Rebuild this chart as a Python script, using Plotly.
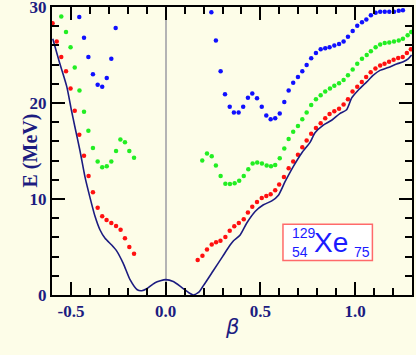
import plotly.graph_objects as go

# level curve and excited bands
curve_beta = [-0.596, -0.560, -0.522, -0.498, -0.479, -0.452, -0.426, -0.400, -0.373, -0.347,
              -0.320, -0.285, -0.259, -0.224, -0.188, -0.150, -0.126, -0.100, -0.056, 0.000,
              0.040, 0.084, 0.128, 0.146, 0.175, 0.200, 0.250, 0.300, 0.340, 0.358,
              0.393, 0.428, 0.472, 0.516, 0.560, 0.595, 0.630, 0.674, 0.718, 0.762,
              0.788, 0.832, 0.876, 0.919, 0.955, 0.981, 1.017, 1.061, 1.096, 1.131,
              1.175, 1.219, 1.254, 1.280, 1.298]
curve_e = [26.7, 24.2, 21.7, 19.3, 17.5, 15.0, 12.3, 10.2, 8.2, 6.8,
           5.9, 5.2, 4.6, 3.3, 1.6, 0.55, 0.45, 0.65, 1.28, 1.6,
           1.4, 0.8, 0.17, 0.0, 0.3, 1.0, 2.5, 4.0, 5.2, 5.65,
           6.25, 7.5, 8.7, 9.4, 9.8, 10.4, 11.8, 13.4, 14.8, 15.9,
           16.9, 17.7, 18.2, 18.9, 19.3, 20.5, 21.35, 22.2, 22.9, 23.4,
           23.7, 24.06, 24.3, 24.6, 25.0]

red_left_beta = [-0.597, -0.575, -0.551, -0.526, -0.502, -0.480, -0.456, -0.431, -0.407, -0.384,
                 -0.359, -0.335, -0.312, -0.287, -0.262, -0.238, -0.215, -0.192, -0.167]
red_left_e = [28.3, 26.4, 24.8, 23.3, 21.5, 19.2, 16.7, 14.5, 12.4, 10.7,
              9.1, 8.2, 7.8, 7.5, 7.2, 6.8, 5.9, 5.0, 4.3]

red_right_beta = [0.169, 0.194, 0.218, 0.243, 0.266, 0.289, 0.315, 0.338, 0.362, 0.386,
                  0.412, 0.434, 0.457, 0.482, 0.507, 0.531, 0.554, 0.578, 0.599, 0.624,
                  0.649, 0.673, 0.698, 0.721, 0.744, 0.768, 0.793, 0.818, 0.842, 0.865,
                  0.890, 0.915, 0.939, 0.962, 0.986, 1.011, 1.035, 1.058, 1.082, 1.107,
                  1.132, 1.155, 1.179, 1.203, 1.227, 1.251, 1.273, 1.294]
red_right_e = [3.65, 4.1, 4.75, 5.25, 5.5, 5.65, 6.05, 6.7, 7.15, 7.5,
               7.9, 8.6, 9.2, 9.7, 10.1, 10.3, 10.5, 10.9, 11.5, 12.3,
               13.2, 13.9, 14.6, 15.4, 16.1, 16.8, 17.4, 17.9, 18.4, 18.85,
               19.15, 19.4, 19.85, 20.4, 21.2, 21.7, 22.2, 22.7, 23.2, 23.6,
               23.9, 24.1, 24.3, 24.5, 24.7, 24.8, 25.2, 25.6]

green_left_beta = [-0.551, -0.526, -0.502, -0.480, -0.455, -0.431, -0.408, -0.384, -0.359, -0.335,
                   -0.311, -0.287, -0.262, -0.239, -0.215, -0.192, -0.167]
green_left_e = [29.0, 27.4, 25.8, 23.7, 21.3, 19.1, 17.1, 15.3, 13.9, 13.3,
                13.4, 13.9, 15.0, 16.2, 15.9, 15.0, 14.3]

green_right_beta = [0.193, 0.218, 0.243, 0.265, 0.290, 0.315, 0.339, 0.364, 0.388, 0.412,
                    0.436, 0.459, 0.483, 0.508, 0.533, 0.556, 0.578, 0.602, 0.626, 0.649,
                    0.673, 0.698, 0.721, 0.744, 0.768, 0.793, 0.818, 0.842, 0.867, 0.890,
                    0.915, 0.939, 0.962, 0.987, 1.011, 1.036, 1.061, 1.083, 1.108, 1.132,
                    1.156, 1.180, 1.205, 1.230, 1.252, 1.277, 1.296]
green_right_e = [14.0, 14.75, 14.45, 13.5, 12.4, 11.6, 11.55, 11.65, 11.9, 12.4,
                 13.1, 13.7, 13.8, 13.7, 13.5, 13.4, 13.55, 14.25, 15.25, 16.25,
                 17.0, 17.6, 18.3, 19.0, 19.8, 20.4, 20.8, 21.2, 21.5, 21.8,
                 22.05, 22.4, 22.9, 23.5, 24.1, 24.6, 25.0, 25.4, 25.8, 26.1,
                 26.25, 26.3, 26.4, 26.5, 26.7, 27.05, 27.4]

blue_left_beta = [-0.456, -0.431, -0.408, -0.384, -0.359, -0.335, -0.311, -0.287, -0.264]
blue_left_e = [28.96, 26.8, 24.8, 23.0, 21.9, 21.7, 22.6, 24.6, 27.8]

blue_right_beta = [0.241, 0.265, 0.290, 0.313, 0.338, 0.360, 0.385, 0.409, 0.434, 0.457,
                   0.482, 0.507, 0.531, 0.554, 0.578, 0.602, 0.626, 0.649, 0.673, 0.698,
                   0.721, 0.744, 0.768, 0.793, 0.818, 0.842, 0.865, 0.890, 0.915, 0.939,
                   0.962, 0.987, 1.011, 1.036, 1.059, 1.083, 1.108, 1.132, 1.156, 1.180,
                   1.205, 1.230, 1.252]
blue_right_e = [29.45, 26.5, 23.3, 20.9, 19.6, 19.0, 19.0, 19.6, 20.55, 21.0,
                20.5, 19.6, 18.7, 18.3, 18.4, 18.9, 20.1, 21.3, 22.1, 22.7,
                23.3, 23.95, 24.65, 25.2, 25.6, 25.7, 25.8, 26.0, 26.15, 26.4,
                26.9, 27.5, 28.05, 28.4, 28.7, 29.15, 29.4, 29.5, 29.5, 29.5,
                29.5, 29.6, 29.65]

x_tickvals = [-0.5, 0.0, 0.5, 1.0]
x_ticktext = ["<b>-0.5</b>", "<b>0.0</b>", "<b>0.5</b>", "<b>1.0</b>"]
y_tickvals = [0, 10, 20, 30]
y_ticktext = ["<b>0</b>", "<b>10</b>", "<b>20</b>", "<b>30</b>"]

BG = '#fdfde8'
NAVY = '#1c1c80'
TXT_BLUE = '#1a1aff'

fig = go.Figure()

dot_sets = [
    (red_left_beta, red_left_e, '#ff1010'),
    (red_right_beta, red_right_e, '#ff1010'),
    (green_left_beta, green_left_e, '#22ee22'),
    (green_right_beta, green_right_e, '#22ee22'),
    (blue_left_beta, blue_left_e, '#1010ff'),
    (blue_right_beta, blue_right_e, '#1010ff'),
]
for xs, ys, col in dot_sets:
    fig.add_trace(go.Scatter(x=xs, y=ys, mode='markers',
                             marker=dict(color=col, size=4.5, line=dict(width=0)),
                             showlegend=False))

fig.add_trace(go.Scatter(x=curve_beta, y=curve_e, mode='lines',
                         line=dict(color=NAVY, width=1.6, shape='spline', smoothing=0.6),
                         showlegend=False))

# nucleus label
fig.add_shape(type='rect', x0=0.619, x1=1.091, y0=3.6, y1=7.36, xref='x', yref='y',
              line=dict(color='#ff6a6a', width=1.5), fillcolor='white')
lab_font = dict(family='Liberation Sans', color=TXT_BLUE)
fig.add_annotation(x=0.656, y=6.46, text='129', showarrow=False, xanchor='left',
                   font=dict(size=14, **lab_font))
fig.add_annotation(x=0.656, y=4.43, text='54', showarrow=False, xanchor='left',
                   font=dict(size=14, **lab_font))
fig.add_annotation(x=0.872, y=5.42, text='Xe', showarrow=False,
                   font=dict(size=28, **lab_font))
fig.add_annotation(x=0.983, y=4.43, text='75', showarrow=False, xanchor='left',
                   font=dict(size=14, **lab_font))

# axis titles as paper annotations
fig.add_annotation(x=-0.1, y=0.5, xref='paper', yref='paper', text='<b>E (MeV)</b>',
                   textangle=-90, showarrow=False,
                   font=dict(family='Liberation Serif', size=20, color=NAVY))
fig.add_annotation(x=0.5, y=-0.16, xref='paper', yref='paper', text='<i>β</i>',
                   showarrow=False,
                   font=dict(family='DejaVu Sans', size=21, color=NAVY))

tick_font = dict(family='Liberation Serif', size=17, color=NAVY)

fig.update_xaxes(range=[-0.6, 1.3], tickmode='array', tickvals=x_tickvals, ticktext=x_ticktext,
                 ticks='inside', ticklen=13, tickwidth=2, tickcolor='black',
                 minor=dict(ticks='inside', ticklen=7, tickwidth=1.5, tickcolor='black',
                            tick0=0, dtick=0.1),
                 showline=True, linecolor='black', linewidth=2, mirror='allticks',
                 showgrid=False, zeroline=True, zerolinecolor='#b4b4b4', zerolinewidth=2,
                 tickfont=tick_font, automargin=False)
fig.update_yaxes(range=[0, 30], tickmode='array', tickvals=y_tickvals, ticktext=y_ticktext,
                 ticks='inside', ticklen=13, tickwidth=2, tickcolor='black',
                 minor=dict(ticks='inside', ticklen=7, tickwidth=1.5, tickcolor='black',
                            tick0=0, dtick=2),
                 showline=True, linecolor='black', linewidth=2, mirror='allticks',
                 showgrid=False, zeroline=False, tickfont=tick_font,
                 ticklabeloverflow='allow', automargin=False)

fig.update_layout(width=416, height=355,
                  margin=dict(l=52, r=4, t=7, b=60),
                  paper_bgcolor=BG, plot_bgcolor=BG,
                  showlegend=False)

# page body margin would push the figure off the 416x355 window
fig.write_html("out.html", config={'displayModeBar': False},
               post_script="document.body.style.margin='0px';")
